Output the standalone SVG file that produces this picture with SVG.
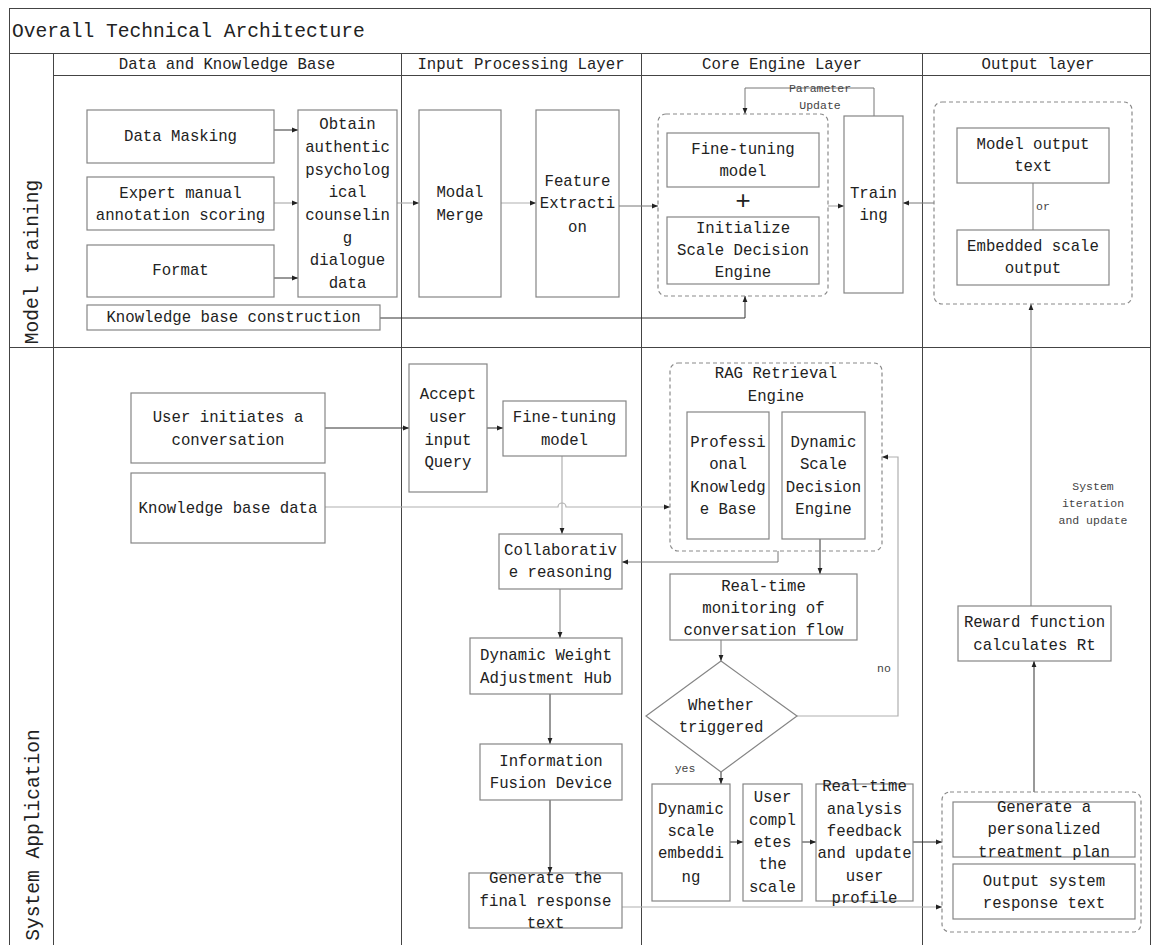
<svg xmlns="http://www.w3.org/2000/svg" width="1151" height="945" viewBox="0 0 1151 945">
<style>
.frame{fill:none;stroke:#444;stroke-width:1}
.box{fill:#fff;stroke:#858585;stroke-width:1.2}
.grp{fill:none;stroke:#8a8a8a;stroke-width:1.2;stroke-dasharray:4 3}
.t{font-family:"Liberation Mono",monospace;font-size:15.7px;fill:#222;text-anchor:middle}
.title{font-family:"Liberation Mono",monospace;font-size:19.6px;fill:#222}
.big{font-family:"Liberation Mono",monospace;font-size:19.6px;fill:#222;text-anchor:middle}
.s{font-family:"Liberation Mono",monospace;font-size:11.5px;fill:#444;text-anchor:middle}
.cd{fill:none;stroke:#333;stroke-width:1}
.cm{fill:none;stroke:#777;stroke-width:1}
.cl{fill:none;stroke:#b0b0b0;stroke-width:1.2}
</style>
<defs>
<marker id="a" viewBox="0 0 6 6" refX="6" refY="3" markerWidth="6" markerHeight="6" markerUnits="userSpaceOnUse" orient="auto"><path d="M0,0.6 L6,3 L0,5.4z" fill="#222"/></marker>
</defs>
<rect width="1151" height="945" fill="#fff"/>
<g id="frame">
<rect class="frame" x="9.5" y="8.5" width="1141" height="950"/>
<line class="frame" x1="9" y1="53.5" x2="1151" y2="53.5"/>
<line class="frame" x1="53" y1="75.5" x2="1151" y2="75.5"/>
<line class="frame" x1="9" y1="347.5" x2="1151" y2="347.5"/>
<line class="frame" x1="53.5" y1="53" x2="53.5" y2="945"/>
<line class="frame" x1="401.5" y1="53" x2="401.5" y2="945"/>
<line class="frame" x1="641.5" y1="53" x2="641.5" y2="945"/>
<line class="frame" x1="922.5" y1="53" x2="922.5" y2="945"/>
<text class="title" x="12" y="37">Overall Technical Architecture</text>
<text class="t" x="227" y="69">Data and Knowledge Base</text>
<text class="t" x="521" y="69">Input Processing Layer</text>
<text class="t" x="782" y="69">Core Engine Layer</text>
<text class="t" x="1038" y="69">Output layer</text>
<text class="big" transform="translate(38,262) rotate(-90)">Model training</text>
<text class="big" transform="translate(39,835) rotate(-90)">System Application</text>
</g>
<g id="connectors">
<path class="cd" d="M274,130 H298" marker-end="url(#a)"/>
<path class="cl" d="M274,203 H298" marker-end="url(#a)"/>
<path class="cd" d="M274,278 H298" marker-end="url(#a)"/>
<path class="cl" d="M397,203 H419" marker-end="url(#a)"/>
<path class="cl" d="M501,203 H536" marker-end="url(#a)"/>
<path class="cm" d="M619,206 H658" marker-end="url(#a)"/>
<path class="cl" d="M828,206 H844" marker-end="url(#a)"/>
<path class="cm" d="M934,203 H903" marker-end="url(#a)"/>
<path class="cm" d="M874,116 V88 H745 V114" marker-end="url(#a)"/>
<path class="cd" d="M380,318 H745 V296" marker-end="url(#a)"/>
<path class="cm" d="M1033,183 V230"/>
<path class="cm" d="M1031,606 V304" marker-end="url(#a)"/>
<path class="cd" d="M325,428 H409" marker-end="url(#a)"/>
<path class="cd" d="M487,428 H503" marker-end="url(#a)"/>
<path class="cl" d="M325,507 H558 A4,4 0 0 1 566,507 H670" marker-end="url(#a)"/>
<path class="cl" d="M562,456 V534" marker-end="url(#a)"/>
<path class="cm" d="M778,551 V562 H622" marker-end="url(#a)"/>
<path class="cm" d="M560,589 V638" marker-end="url(#a)"/>
<path class="cd" d="M550,694 V744" marker-end="url(#a)"/>
<path class="cd" d="M550,800 V873" marker-end="url(#a)"/>
<path class="cl" d="M622,907 H942" marker-end="url(#a)"/>
<path class="cd" d="M820,539 V574" marker-end="url(#a)"/>
<path class="cm" d="M721,640 V661" marker-end="url(#a)"/>
<path class="cl" d="M797,716 H898 V457 H882" marker-end="url(#a)"/>
<path class="cd" d="M721,772 V784" marker-end="url(#a)"/>
<path class="cd" d="M730,842 H743" marker-end="url(#a)"/>
<path class="cd" d="M802,842 H816" marker-end="url(#a)"/>
<path class="cd" d="M913,842 H942" marker-end="url(#a)"/>
<path class="cd" d="M1034,792 V661" marker-end="url(#a)"/>
<text class="s" x="820" y="92">Parameter</text>
<text class="s" x="820" y="109">Update</text>
<text class="s" x="1043" y="210">or</text>
<text class="s" x="1093" y="490">System</text>
<text class="s" x="1093" y="507">iteration</text>
<text class="s" x="1093" y="524">and update</text>
<text class="s" x="884" y="672">no</text>
<text class="s" x="685" y="772">yes</text>
</g>
<g id="data-masking"><rect class="box" x="87" y="110" width="187" height="53"/><text class="t" x="180.5" y="141">Data Masking</text></g>
<g id="expert-annotation"><rect class="box" x="87" y="177" width="187" height="53"/><text class="t" x="180.5" y="198">Expert manual</text><text class="t" x="180.5" y="220">annotation scoring</text></g>
<g id="format"><rect class="box" x="87" y="245" width="187" height="52"/><text class="t" x="180.5" y="275">Format</text></g>
<g id="obtain-data"><rect class="box" x="298" y="110" width="99" height="187"/>
<text class="t" x="347.5" y="129">Obtain</text><text class="t" x="347.5" y="152">authentic</text><text class="t" x="347.5" y="175">psycholog</text><text class="t" x="347.5" y="197">ical</text><text class="t" x="347.5" y="220">counselin</text><text class="t" x="347.5" y="243">g</text><text class="t" x="347.5" y="265">dialogue</text><text class="t" x="347.5" y="288">data</text></g>
<g id="kb-construction"><rect class="box" x="87" y="305" width="293" height="25"/><text class="t" x="233.5" y="322">Knowledge base construction</text></g>
<g id="modal-merge"><rect class="box" x="419" y="110" width="82" height="187"/><text class="t" x="460" y="197">Modal</text><text class="t" x="460" y="220">Merge</text></g>
<g id="feature-extraction"><rect class="box" x="536" y="110" width="83" height="187"/><text class="t" x="577.5" y="186">Feature</text><text class="t" x="577.5" y="208">Extracti</text><text class="t" x="577.5" y="232">on</text></g>
<g id="core-group"><rect class="grp" x="658" y="114" width="170" height="182" rx="8"/></g>
<g id="ft-model-train"><rect class="box" x="667" y="133" width="152" height="54"/><text class="t" x="743" y="154">Fine-tuning</text><text class="t" x="743" y="176">model</text></g>
<g id="plus"><text class="t" x="743" y="209" style="font-size:26px">+</text></g>
<g id="init-scale"><rect class="box" x="667" y="217" width="152" height="67"/><text class="t" x="743" y="233">Initialize</text><text class="t" x="743" y="255">Scale Decision</text><text class="t" x="743" y="277">Engine</text></g>
<g id="training"><rect class="box" x="844" y="116" width="59" height="177"/><text class="t" x="873.5" y="198">Train</text><text class="t" x="873.5" y="220">ing</text></g>
<g id="output-group"><rect class="grp" x="934" y="102" width="198" height="202" rx="8"/></g>
<g id="model-output-text"><rect class="box" x="957" y="128" width="152" height="55"/><text class="t" x="1033" y="149">Model output</text><text class="t" x="1033" y="171">text</text></g>
<g id="embedded-scale-output"><rect class="box" x="957" y="230" width="152" height="55"/><text class="t" x="1033" y="251">Embedded scale</text><text class="t" x="1033" y="273">output</text></g>
<g id="user-initiates"><rect class="box" x="131" y="393" width="194" height="70"/><text class="t" x="228" y="422">User initiates a</text><text class="t" x="228" y="445">conversation</text></g>
<g id="kb-data"><rect class="box" x="131" y="473" width="194" height="70"/><text class="t" x="228" y="513">Knowledge base data</text></g>
<g id="accept-query"><rect class="box" x="409" y="364" width="78" height="128"/><text class="t" x="448" y="399">Accept</text><text class="t" x="448" y="422">user</text><text class="t" x="448" y="445">input</text><text class="t" x="448" y="467">Query</text></g>
<g id="ft-model-app"><rect class="box" x="503" y="401" width="123" height="55"/><text class="t" x="564.5" y="422">Fine-tuning</text><text class="t" x="564.5" y="445">model</text></g>
<g id="collab-reasoning"><rect class="box" x="499" y="534" width="123" height="55"/><text class="t" x="560.5" y="555">Collaborativ</text><text class="t" x="560.5" y="577">e reasoning</text></g>
<g id="rag-engine"><rect class="grp" x="670" y="363" width="212" height="188" rx="8"/><text class="t" x="776" y="378">RAG Retrieval</text><text class="t" x="776" y="401">Engine</text></g>
<g id="prof-kb"><rect class="box" x="687" y="412" width="82" height="127"/><text class="t" x="728" y="447">Professi</text><text class="t" x="728" y="469">onal</text><text class="t" x="728" y="492">Knowledg</text><text class="t" x="728" y="514">e Base</text></g>
<g id="dyn-scale-engine"><rect class="box" x="782" y="412" width="83" height="127"/><text class="t" x="823.5" y="447">Dynamic</text><text class="t" x="823.5" y="469">Scale</text><text class="t" x="823.5" y="492">Decision</text><text class="t" x="823.5" y="514">Engine</text></g>
<g id="realtime-monitor"><rect class="box" x="670" y="574" width="187" height="66"/><text class="t" x="763.5" y="591">Real-time</text><text class="t" x="763.5" y="613">monitoring of</text><text class="t" x="763.5" y="635">conversation flow</text></g>
<g id="whether-triggered"><polygon class="box" points="721,661 797,716 721,772 646,716"/><text class="t" x="721" y="710">Whether</text><text class="t" x="721" y="732">triggered</text></g>
<g id="dyn-weight-hub"><rect class="box" x="470" y="638" width="152" height="56"/><text class="t" x="546" y="660">Dynamic Weight</text><text class="t" x="546" y="683">Adjustment Hub</text></g>
<g id="info-fusion"><rect class="box" x="480" y="744" width="142" height="56"/><text class="t" x="551" y="766">Information</text><text class="t" x="551" y="788">Fusion Device</text></g>
<g id="gen-final"><rect class="box" x="469" y="873" width="153" height="55"/><text class="t" x="545.5" y="883">Generate the</text><text class="t" x="545.5" y="906">final response</text><text class="t" x="545.5" y="928">text</text></g>
<g id="dyn-scale-embed"><rect class="box" x="652" y="784" width="78" height="117"/><text class="t" x="691" y="814">Dynamic</text><text class="t" x="691" y="836">scale</text><text class="t" x="691" y="858">embeddi</text><text class="t" x="691" y="882">ng</text></g>
<g id="user-completes"><rect class="box" x="743" y="784" width="59" height="117"/><text class="t" x="772.5" y="802">User</text><text class="t" x="772.5" y="825">compl</text><text class="t" x="772.5" y="847">etes</text><text class="t" x="772.5" y="869">the</text><text class="t" x="772.5" y="892">scale</text></g>
<g id="realtime-analysis"><rect class="box" x="816" y="784" width="97" height="117"/><text class="t" x="864.5" y="791">Real-time</text><text class="t" x="864.5" y="814">analysis</text><text class="t" x="864.5" y="836">feedback</text><text class="t" x="864.5" y="858">and update</text><text class="t" x="864.5" y="881">user</text><text class="t" x="864.5" y="903">profile</text></g>
<g id="reward"><rect class="box" x="958" y="606" width="153" height="55"/><text class="t" x="1034.5" y="627">Reward function</text><text class="t" x="1034.5" y="650">calculates Rt</text></g>
<g id="sys-output-group"><rect class="grp" x="942" y="792" width="199" height="140" rx="8"/></g>
<g id="gen-plan"><rect class="box" x="953" y="802" width="182" height="55"/><text class="t" x="1044" y="812">Generate a</text><text class="t" x="1044" y="834">personalized</text><text class="t" x="1044" y="857">treatment plan</text></g>
<g id="output-sys-text"><rect class="box" x="953" y="864" width="182" height="55"/><text class="t" x="1044" y="886">Output system</text><text class="t" x="1044" y="908">response text</text></g>
</svg>
